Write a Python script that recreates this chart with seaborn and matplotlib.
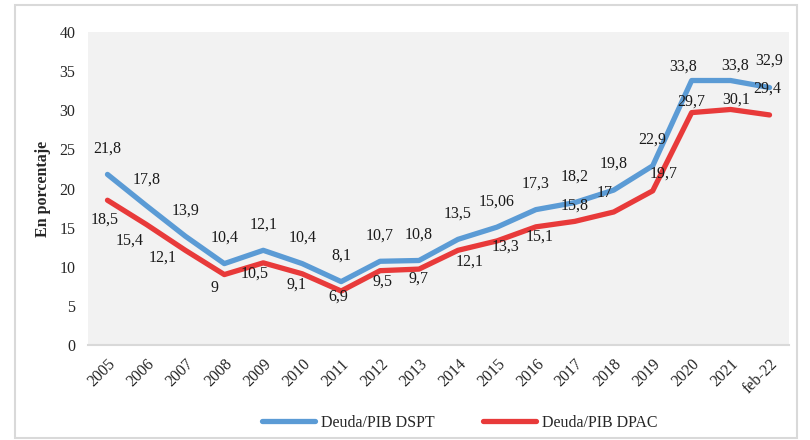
import pandas as pd
import numpy as np
import matplotlib
matplotlib.use("Agg")
import matplotlib.pyplot as plt
import seaborn as sns
from matplotlib.patches import Rectangle

# Data

periodos = ["2005", "2006", "2007", "2008", "2009", "2010", "2011", "2012", "2013",
            "2014", "2015", "2016", "2017", "2018", "2019", "2020", "2021", "feb-22"]

dspt = [21.8, 17.8, 13.9, 10.4, 12.1, 10.4, 8.1, 10.7, 10.8,
        13.5, 15.06, 17.3, 18.2, 19.8, 22.9, 33.8, 33.8, 32.9]

dpac = [18.5, 15.4, 12.1, 9, 10.5, 9.1, 6.9, 9.5, 9.7,
        12.1, 13.3, 15.1, 15.8, 17, 19.7, 29.7, 30.1, 29.4]

series_names = ["Deuda/PIB DSPT", "Deuda/PIB DPAC"]

# label offsets in pixels (dx, dy) - dy positive = up
off_dspt = [(0, 26)] * 15 + [(-9, 14), (5, 15), (0, 27)]
off_dpac = [(-3, -19), (-17, -16), (-23, -7), (-10, -13), (-9, -11), (-6, -11),
            (-3, -6), (2, -11), (-1, -10), (12, -11), (9, -6), (4, -10),
            (0, 16), (-9, 19), (11, 17), (0, 11), (6, 10), (-2, 26)]

df = pd.DataFrame({
    "Periodo": periodos * 2,
    "Valor": dspt + dpac,
    "Serie": [series_names[0]] * len(periodos) + [series_names[1]] * len(periodos)
})

colors = {"Deuda/PIB DSPT": "#5B9BD5", "Deuda/PIB DPAC": "#E83A3A"}

sns.set_theme(style="white")
plt.rcParams["font.family"] = ["Liberation Serif", "DejaVu Serif"]

fs = 11.5

fig = plt.figure(figsize=(8.1, 4.4), dpi=100)
ax = fig.add_axes([88 / 810, 1 - 345 / 440, (789 - 88) / 810, (345 - 32) / 440])
ax.set_facecolor("#F2F2F2")

sns.lineplot(
    data=df,
    x="Periodo",
    y="Valor",
    hue="Serie",
    palette=colors,
    linewidth=3.8,
    sort=False,
    ax=ax
)

# Data labels

for i, v in enumerate(dspt):
    ax.annotate(f"{v:g}".replace(".", ","), (i, v), xytext=off_dspt[i],
                textcoords="offset pixels", ha="center", va="center",
                fontsize=fs, color="#1a1a1a")

for i, v in enumerate(dpac):
    ax.annotate(f"{v:g}".replace(".", ","), (i, v), xytext=off_dpac[i],
                textcoords="offset pixels", ha="center", va="center",
                fontsize=fs, color="#1a1a1a")

# Axes

ax.set_xlim(-0.5, len(periodos) - 0.5)
ax.set_ylim(0, 40)
ax.set_yticks(np.arange(0, 41, 5))
ax.set_xlabel("")
ax.set_ylabel("En porcentaje", fontsize=fs, fontweight="bold", labelpad=6)

ax.tick_params(axis="y", labelsize=fs, pad=9, length=0)
ax.tick_params(axis="x", labelsize=fs, pad=8, length=0)
plt.setp(ax.get_xticklabels(), rotation=45, ha="right", rotation_mode="anchor")

for s in ["top", "right", "left"]:
    ax.spines[s].set_visible(False)
ax.spines["bottom"].set_color("#D9D9D9")
ax.spines["bottom"].set_linewidth(1.5)

# Legend

handles, labels = ax.get_legend_handles_labels()
ax.legend_.remove()
fig.legend(handles, labels, loc="center", bbox_to_anchor=(460 / 810, 17 / 440),
           ncol=2, frameon=False, fontsize=fs, handlelength=3.3,
           columnspacing=3.0, handletextpad=0.4)

# Outer border

fig.patches.append(Rectangle((15 / 810, 2 / 440), 782 / 810, 433 / 440,
                             transform=fig.transFigure, fill=False,
                             edgecolor="#D9D9D9", linewidth=1.5))

fig.savefig("out.png", dpi=100)
